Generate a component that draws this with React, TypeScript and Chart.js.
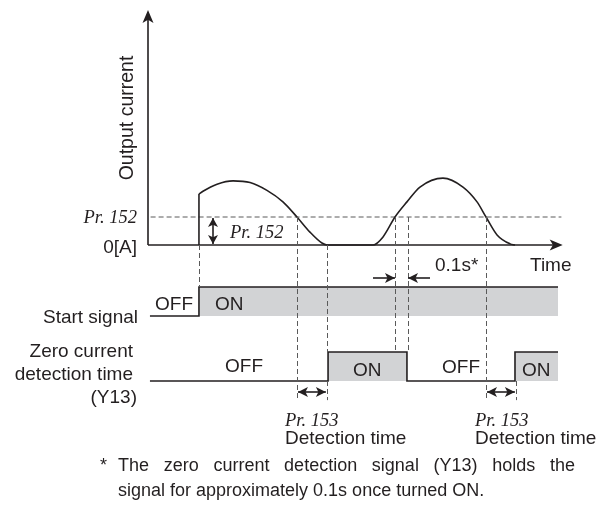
import React, { useEffect, useRef } from "react";
import { Chart, registerables } from "chart.js";

Chart.register(...registerables);

// ---------------- data (time in s, current in units of the Pr.152 level) ----------------
const currentTimes = [0.392, 0.423, 0.531, 0.654, 0.785, 0.915, 1.038, 1.146, 1.246, 1.338, 1.377, 1.731, 1.808, 1.9, 1.992, 2.092, 2.269, 2.423, 2.531, 2.6, 2.685, 2.785, 2.823];
const currentValues = [1.82, 1.92, 2.17, 2.29, 2.23, 1.95, 1.54, 1.0, 0.46, 0.07, 0, 0, 0.29, 1.0, 1.54, 2.07, 2.39, 2.07, 1.54, 1.0, 0.36, 0.04, 0];

const startSignalTimes = [0.015, 0.392, 3.154];
const startSignalLevels = [0, 1, 1];

const y13Times = [0.015, 1.385, 1.992, 2.823, 3.154];
const y13Levels = [0, 1, 0, 1, 1];

const PR152_LEVEL = 1;           // zero current detection level
const HOLD_TIME = 0.1;           // Y13 hold time (s)
const DETECTION_TIME = 0.23;     // Pr.153 detection time (s)
const CROSS_DOWN_1 = 1.146;      // current falls below Pr.152
const CROSS_UP_2 = 1.9;          // current rises above Pr.152
const CROSS_DOWN_2 = 2.6;        // current falls below Pr.152 again
const TIME_AXIS_END = 3.19;
const CURRENT_AXIS_TOP = 8.39;
const THRESHOLD_LINE_END = 3.18;

// ---------------- layout ----------------
const W = 603;
const H = 511;
const X_ORIGIN_PX = 148;
const PX_PER_S = 130;
const rowI = { zero: 245, unit: 28 };
const rowS = { zero: 316, unit: 29 };
const rowZ = { zero: 381, unit: 29 };
const axisRange = (r: { zero: number; unit: number }) => ({ max: r.zero / r.unit, min: (r.zero - H) / r.unit });

const INK = "#231f20";
const GUIDE = "#5a5a5a";
const FILL = "#d2d3d5";
const SANS = "'Liberation Sans', Arial, sans-serif";
const SERIF = "'Liberation Serif', 'Times New Roman', serif";
const LABEL_PX = 19;
const NOTE_PX = 18;

const pts = (xs: number[], ys: number[]) => xs.map((x, i) => ({ x, y: ys[i] }));

// vertical dashed guides: time, from [axis, value] to [axis, value]
const guides: { t: number; from: [string, number]; to: [string, number] }[] = [
  { t: startSignalTimes[1], from: ["yI", 0], to: ["yS", 1] },
  { t: CROSS_DOWN_1, from: ["yI", PR152_LEVEL], to: ["yZ", -0.66] },
  { t: CROSS_DOWN_1 + DETECTION_TIME, from: ["yI", 0], to: ["yZ", 1] },
  { t: CROSS_DOWN_1 + DETECTION_TIME, from: ["yZ", 0], to: ["yZ", -0.66] },
  { t: CROSS_UP_2, from: ["yI", PR152_LEVEL], to: ["yZ", 1] },
  { t: CROSS_UP_2 + HOLD_TIME, from: ["yI", PR152_LEVEL], to: ["yZ", 1] },
  { t: CROSS_DOWN_2, from: ["yI", PR152_LEVEL], to: ["yZ", -0.66] },
  { t: CROSS_DOWN_2 + DETECTION_TIME, from: ["yZ", 0], to: ["yZ", -0.66] },
];

type Lbl = { text: string; x: number; y: number; align?: CanvasTextAlign; font: string };
const sans = `${LABEL_PX}px ${SANS}`;
const ital = `italic ${LABEL_PX - 0.5}px ${SERIF}`;
const labels: Lbl[] = [
  { text: "Pr. 152", x: 137, y: 223, align: "right", font: ital },
  { text: "0[A]", x: 137, y: 253, align: "right", font: sans },
  { text: "Pr. 152", x: 230, y: 238, font: ital },
  { text: "0.1s*", x: 435, y: 271, font: sans },
  { text: "Time", x: 530, y: 271, font: sans },
  { text: "OFF", x: 155, y: 310, font: sans },
  { text: "ON", x: 215, y: 310, font: sans },
  { text: "Start signal", x: 138, y: 323, align: "right", font: sans },
  { text: "Zero current", x: 133, y: 357, align: "right", font: sans },
  { text: "detection time", x: 133, y: 380, align: "right", font: sans },
  { text: "(Y13)", x: 137, y: 403, align: "right", font: sans },
  { text: "OFF", x: 225, y: 372, font: sans },
  { text: "ON", x: 353, y: 376, font: sans },
  { text: "OFF", x: 442, y: 373, font: sans },
  { text: "ON", x: 522, y: 376, font: sans },
  { text: "Pr. 153", x: 285, y: 426, font: ital },
  { text: "Detection time", x: 285, y: 444, font: sans },
  { text: "Pr. 153", x: 475, y: 426, font: ital },
  { text: "Detection time", x: 475, y: 444, font: sans },
];
const footnote1 = "The zero current detection signal (Y13) holds the";
const footnote2 = "signal for approximately 0.1s once turned ON.";

function head(ctx: CanvasRenderingContext2D, x: number, y: number, dx: number, dy: number, len = 9, half = 4) {
  const px = -dy, py = dx;
  ctx.beginPath();
  ctx.moveTo(x, y);
  ctx.lineTo(x - dx * len + px * half, y - dy * len + py * half);
  ctx.lineTo(x - dx * len * 0.75, y - dy * len * 0.75);
  ctx.lineTo(x - dx * len - px * half, y - dy * len - py * half);
  ctx.closePath();
  ctx.fill();
}

function arrowH(ctx: CanvasRenderingContext2D, x1: number, x2: number, y: number, headEnd: boolean, headStart: boolean) {
  ctx.beginPath();
  ctx.moveTo(x1, y);
  ctx.lineTo(x2, y);
  ctx.stroke();
  const d = Math.sign(x2 - x1);
  if (headEnd) head(ctx, x2, y, d, 0, 10, 5);
  if (headStart) head(ctx, x1, y, -d, 0, 10, 5);
}

const overlay = {
  id: "overlay",
  afterDatasetsDraw(chart: any) {
    const { ctx, scales } = chart;
    const X = (t: number) => scales.x.getPixelForValue(t);
    ctx.save();
    // dashed guides
    ctx.strokeStyle = GUIDE;
    ctx.lineWidth = 1;
    ctx.setLineDash([5, 3]);
    for (const g of guides) {
      const px = Math.round(X(g.t)) + 0.5;
      ctx.beginPath();
      ctx.moveTo(px, scales[g.from[0]].getPixelForValue(g.from[1]));
      ctx.lineTo(px, scales[g.to[0]].getPixelForValue(g.to[1]));
      ctx.stroke();
    }
    ctx.setLineDash([]);

    // arrows
    ctx.strokeStyle = INK;
    ctx.fillStyle = INK;
    ctx.lineWidth = 1.6;
    // axis heads
    head(ctx, X(0), scales.yI.getPixelForValue(CURRENT_AXIS_TOP), 0, -1, 13, 5.5);
    head(ctx, X(TIME_AXIS_END), scales.yI.getPixelForValue(0), 1, 0, 13, 5.5);
    // Pr.152 level double arrow
    const ax = X(0.5);
    const yTop = scales.yI.getPixelForValue(PR152_LEVEL) + 1;
    const yBot = scales.yI.getPixelForValue(0) - 1;
    ctx.beginPath();
    ctx.moveTo(ax, yTop);
    ctx.lineTo(ax, yBot);
    ctx.stroke();
    head(ctx, ax, yTop, 0, -1, 9, 5);
    head(ctx, ax, yBot, 0, 1, 9, 5);
    // 0.1s hold arrows
    const hy = scales.yS.getPixelForValue(1) - 9;
    arrowH(ctx, X(CROSS_UP_2) - 22, X(CROSS_UP_2), hy, true, false);
    arrowH(ctx, X(CROSS_UP_2 + HOLD_TIME) + 22, X(CROSS_UP_2 + HOLD_TIME), hy, true, false);
    // detection time arrows
    const dy = scales.yZ.getPixelForValue(0) + 11;
    arrowH(ctx, X(CROSS_DOWN_1) + 1, X(CROSS_DOWN_1 + DETECTION_TIME) - 1, dy, true, true);
    arrowH(ctx, X(CROSS_DOWN_2) + 1, X(CROSS_DOWN_2 + DETECTION_TIME) - 1, dy, true, true);

    // texts
    ctx.textBaseline = "alphabetic";
    for (const l of labels) {
      ctx.font = l.font;
      ctx.textAlign = l.align || "left";
      ctx.fillText(l.text, l.x, l.y);
    }
    // rotated axis title
    ctx.save();
    ctx.translate(133, 118);
    ctx.rotate(-Math.PI / 2);
    ctx.font = `${LABEL_PX + 0.5}px ${SANS}`;
    ctx.textAlign = "center";
    ctx.fillText("Output current", 0, 0);
    ctx.restore();
    // footnote
    ctx.font = `${NOTE_PX}px ${SANS}`;
    ctx.textAlign = "left";
    ctx.fillText("*", 100, 471);
    const words = footnote1.split(" ");
    const tot = words.reduce((s, w) => s + ctx.measureText(w).width, 0);
    const gap = (575 - 118 - tot) / (words.length - 1);
    let cx = 118;
    for (const w of words) {
      ctx.fillText(w, cx, 471);
      cx += ctx.measureText(w).width + gap;
    }
    ctx.fillText(footnote2, 118, 496);
    ctx.restore();
  },
};

export default function App() {
  const ref = useRef<HTMLCanvasElement | null>(null);
  useEffect(() => {
    if (!ref.current) return;
    const line = { borderColor: INK, borderWidth: 1.6, pointRadius: 0, fill: false, tension: 0, borderJoinStyle: "miter" as const };
    const chart = new Chart(ref.current, {
      type: "line",
      data: {
        datasets: [
          { ...line, label: "Output current", data: pts(currentTimes, currentValues), yAxisID: "yI", cubicInterpolationMode: "monotone" },
          { ...line, label: "step", data: [{ x: startSignalTimes[1], y: 0 }, { x: startSignalTimes[1], y: currentValues[0] }], yAxisID: "yI" },
          { ...line, label: "time axis", data: [{ x: 0, y: 0 }, { x: TIME_AXIS_END - 0.05, y: 0 }], yAxisID: "yI" },
          { ...line, label: "current axis", data: [{ x: 0, y: 0 }, { x: 0, y: CURRENT_AXIS_TOP - 0.3 }], yAxisID: "yI" },
          { ...line, label: "Start signal", data: pts(startSignalTimes, startSignalLevels), yAxisID: "yS", stepped: "before", fill: { value: 0 }, backgroundColor: FILL },
          { ...line, label: "Y13", data: pts(y13Times, y13Levels), yAxisID: "yZ", stepped: "before", fill: { value: 0 }, backgroundColor: FILL },
          { ...line, label: "Pr.152", data: [{ x: 0.02, y: PR152_LEVEL }, { x: THRESHOLD_LINE_END, y: PR152_LEVEL }], yAxisID: "yI", borderColor: GUIDE, borderWidth: 1, borderDash: [5, 3] },
        ] as any,
      },
      options: {
        responsive: false,
        animation: false,
        events: [],
        layout: { padding: 0 },
        plugins: { legend: { display: false }, tooltip: { enabled: false } },
        scales: {
          x: { type: "linear", display: false, min: -X_ORIGIN_PX / PX_PER_S, max: (W - X_ORIGIN_PX) / PX_PER_S },
          yI: { type: "linear", display: false, ...axisRange(rowI) },
          yS: { type: "linear", display: false, ...axisRange(rowS) },
          yZ: { type: "linear", display: false, ...axisRange(rowZ) },
        },
      } as any,
      plugins: [overlay],
    });
    return () => chart.destroy();
  }, []);
  return (
    <div style={{ position: "absolute", left: 0, top: 0, width: W, height: H, background: "#fff" }}>
      <canvas ref={ref} width={W} height={H} style={{ display: "block" }} />
    </div>
  );
}
